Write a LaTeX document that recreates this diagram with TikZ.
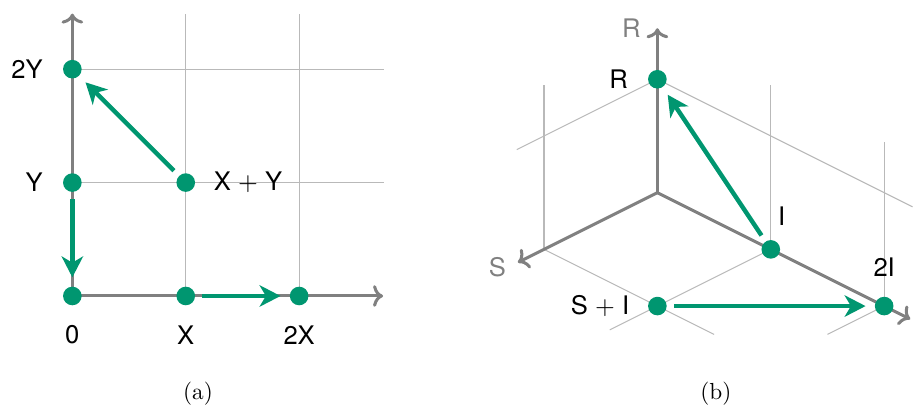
\documentclass[tikz,border=0pt]{standalone}
\usepackage{fontspec}
\usepackage{tikz}
\usetikzlibrary{positioning, arrows.meta}
\newfontfamily\lblfont{TeX Gyre Heros}
\definecolor{moveGreen}{RGB}{0, 150, 112}
\definecolor{axisGray}{RGB}{128, 128, 128}
\definecolor{gridGray}{RGB}{185, 185, 185}

\begin{document}
\begin{tikzpicture}[x=48.76pt, y=48.76pt, node distance=5pt,
    font=\lblfont\fontsize{11}{13}\selectfont,
    axis/.style={line width=1.3pt, axisGray,
      -{Computer Modern Rightarrow[length=4.3pt, width=9.3pt]}},
    gridline/.style={line width=0.45pt, gridGray},
    dot/.style={circle, fill=moveGreen, inner sep=0pt, minimum size=8pt},
    move/.style={line width=1.9pt, moveGreen,
      -{Stealth[length=9pt, width=9.2pt, inset=2.7pt]},
      shorten <=3pt, shorten >=3.8pt},
    axislabel/.style={text=axisGray},
    caption/.style={font=\normalfont\normalsize}]
  \useasboundingbox (-0.638,-0.979) rectangle (7.475,2.610);

  % (a) grid and axes
  \draw[gridline] (1,0) -- (1,2.49) (2,0) -- (2,2.49);
  \draw[gridline] (0,1) -- (2.75,1) (0,2) -- (2.75,2);
  \coordinate (a0) at (0,0);
  \coordinate (xtip) at (2.74,0);
  \coordinate (ytip) at (0,2.49);
  \draw[axis] (a0) -- (xtip);
  \draw[axis] (a0) -- (ytip);

  % (a) points
  \node[dot] (o)  at (0,0) {};
  \node[dot] (x1) at (1,0) {};
  \node[dot] (x2) at (2,0) {};
  \node[dot] (y1) at (0,1) {};
  \node[dot] (y2) at (0,2) {};
  \node[dot] (xy) at (1,1) {};
  \node[below=of o]  (lo)  {0};
  \node[below=of x1] (lx1) {X};
  \node[below=of x2] (lx2) {2X};
  \node[left=of y1]  (ly1) {Y};
  \node[left=of y2]  (ly2) {2Y};
  \node[right=4.4pt of xy] (lxy) {X $+$ Y};

  % (a) moves
  \draw[move] (xy) -- (y2);
  \draw[move] (y1) -- (o);
  \draw[move] (x1) -- (x2);

  \node[caption] (capa) at (1.108,-0.864) {(a)};

  % (b) oblique axes: x = I, y = R, z = S
  \begin{scope}[shift={(5.159,0.911)}, x={(48.76pt,-24.38pt)},
      y={(0pt,48.76pt)}, z={(-48.76pt,-24.38pt)}]
    \draw[gridline] (0,0,1) -- (0,1.45,1);
    \draw[gridline] (1,0,0) -- (1,1.45,0);
    \draw[gridline] (2,0,0) -- (2,1.45,0);
    \draw[gridline] (0,1,0) -- (0,1,1.24);
    \draw[gridline] (0,1,0) -- (2.25,1,0);
    \draw[gridline] (0,0,1) -- (1.5,0,1);
    \draw[gridline] (1,0,0) -- (1,0,1.42);
    \draw[gridline] (2,0,0) -- (2,0,0.5);
    \coordinate (b0) at (0,0,0);
    \coordinate (rtip) at (0,1.45,0);
    \coordinate (stip) at (0,0,1.23);
    \coordinate (itip) at (2.23,0,0);
    \draw[axis] (b0) -- (rtip);
    \draw[axis] (b0) -- (stip);
    \draw[axis] (b0) -- (itip);
    \node[axislabel, left=3.7pt of rtip] (lraxis) {R};
    \node[axislabel, left=1.6pt of stip, yshift=-2pt] (lsaxis) {S};

    % (b) points
    \node[dot] (r)  at (0,1,0) {};
    \node[dot] (i1) at (1,0,0) {};
    \node[dot] (i2) at (2,0,0) {};
    \node[dot] (si) at (1,0,1) {};
    \node[left=of r] (lr) {R};
    \node[above=2.6pt of i1, xshift=4.7pt] (li1) {I};
    \node[above=of i2] (li2) {2I};
    \node[left=4.4pt of si] (lsi) {S $+$ I};

    % (b) moves
    \draw[move] (i1) -- (r);
    \draw[move] (si) -- (i2);
  \end{scope}

  \node[caption] (capb) at (5.675,-0.864) {(b)};
\end{tikzpicture}
\end{document}
